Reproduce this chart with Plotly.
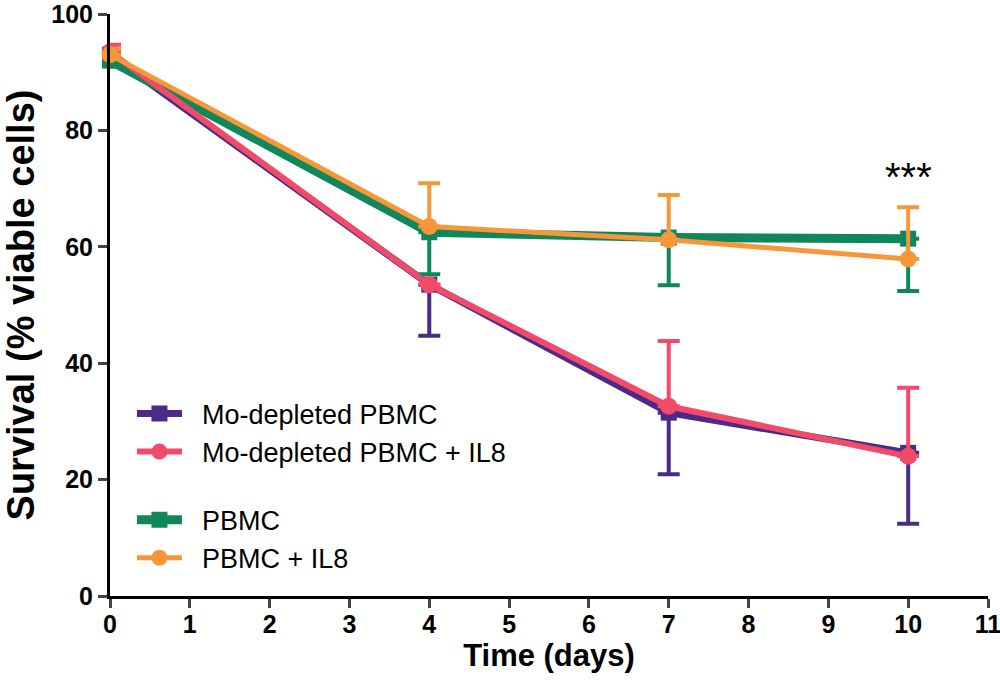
import plotly.graph_objects as go

days = [0, 4, 7, 10]
names = ["Mo-depleted PBMC", "Mo-depleted PBMC + IL8", "PBMC", "PBMC + IL8"]
mo = [93.0, 53.5, 31.5, 24.6]
mo_err_minus = [1.0, 8.8, 10.6, 12.2]
mo_il8 = [93.5, 53.5, 32.6, 24.0]
mo_il8_err_plus = [1.2, 0, 11.2, 11.8]
pbmc = [92.0, 62.5, 61.6, 61.4]
pbmc_err_minus = [1.0, 7.2, 8.2, 9.0]
pbmc_il8 = [93.0, 63.5, 61.2, 57.9]
pbmc_il8_err_plus = [1.0, 7.4, 7.7, 8.9]

x_ticks = list(range(0, 12))
y_ticks = [0, 20, 40, 60, 80, 100]

c_purple = "#4B2A88"
c_pink = "#F24B6A"
c_green = "#10875A"
c_orange = "#F7973A"

fig = go.Figure()

def add(y, name, color, symbol, lw, msize, plus=None, minus=None, group="a", rank=1):
    err = dict(type="data", symmetric=False, color=color, thickness=4, width=11)
    if plus is not None:
        err["array"] = plus
        err["arrayminus"] = [0] * len(plus)
    else:
        err["array"] = [0] * len(minus)
        err["arrayminus"] = minus
    fig.add_trace(go.Scatter(
        x=days, y=y, name="\u00a0\u00a0" + name, mode="lines+markers",
        line=dict(color=color, width=lw),
        marker=dict(color=color, symbol=symbol, size=msize),
        error_y=err, cliponaxis=False, legendgroup=group, legendrank=rank,
    ))

add(mo, names[0], c_purple, "square", 7, 16, minus=mo_err_minus, group="mo", rank=1)
add(pbmc, names[2], c_green, "square", 9, 16, minus=pbmc_err_minus, group="pb", rank=3)
add(mo_il8, names[1], c_pink, "circle", 6, 17, plus=mo_il8_err_plus, group="mo", rank=2)
add(pbmc_il8, names[3], c_orange, "circle", 5, 17, plus=pbmc_il8_err_plus, group="pb", rank=4)

font_b = "Liberation Sans"
fig.add_annotation(x=10, y=72, text="***", showarrow=False,
                   font=dict(size=40, color="black", family=font_b))

fig.update_layout(
    width=1000, height=689,
    margin=dict(l=110, r=12, t=14, b=93),
    plot_bgcolor="white", paper_bgcolor="white",
    showlegend=True,
    legend=dict(x=0.025, y=0.355, xanchor="left", yanchor="top",
                font=dict(size=27, family=font_b, color="black"),
                traceorder="grouped", tracegroupgap=30, itemwidth=45,
                bgcolor="rgba(0,0,0,0)"),
    xaxis=dict(range=[0, 11], tickvals=x_ticks, ticks="outside", ticklen=9,
               tickwidth=3, showline=True, linewidth=3, linecolor="black",
               showgrid=False, zeroline=False, automargin=False,
               ticklabeloverflow="allow", ticklabelstandoff=-5,
               tickfont=dict(size=25, family=font_b, color="black", weight="bold"),
               title=dict(text="<b>Time (days)</b>", font=dict(size=31, family=font_b, color="black"),
                          standoff=8)),
    yaxis=dict(range=[0, 100], tickvals=y_ticks, ticks="outside", ticklen=9,
               tickwidth=3, showline=True, linewidth=3, linecolor="black",
               showgrid=False, zeroline=False, automargin=False,
               ticklabeloverflow="allow",
               tickfont=dict(size=25, family=font_b, color="black", weight="bold"),
               title=dict(text="<b>Survival (% viable cells)</b>", font=dict(size=38, family=font_b, color="black"),
                          standoff=48)),
)

fig.write_html("out.html", post_script="document.body.style.margin='0';",
               config={"displayModeBar": False})
